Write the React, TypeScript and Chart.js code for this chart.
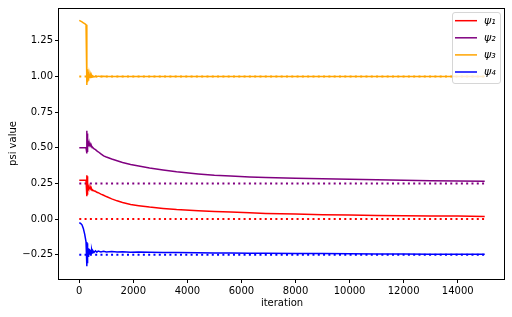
import React, { useEffect, useRef } from "react";
import { Chart, registerables } from "chart.js";

Chart.register(...registerables);

// iterations (shared x values for all four series)
const ITER = [
  0, 50, 100, 150, 200, 250, 275, 280, 285, 290, 295, 300, 305, 310, 315, 320,
  330, 340, 350, 360, 370, 380, 400, 420, 440, 460, 480, 500, 550, 600, 650,
  700, 800, 900, 1000, 1200, 1400, 1600, 1900, 2200, 2600, 3100, 3600, 4400,
  5000, 5600, 6300, 6900, 8000, 9000, 10000, 11000, 12000, 13000, 14000, 15000,
];

const PSI1 = [
  0.272, 0.272, 0.272, 0.272, 0.272, 0.272, 0.272, 0.307, 0.16, 0.3, 0.17, 0.27,
  0.19, 0.25, 0.2, 0.24, 0.215, 0.235, 0.21, 0.225, 0.208, 0.218, 0.212, 0.216,
  0.205, 0.21, 0.2, 0.204, 0.197, 0.195, 0.188, 0.185, 0.175, 0.167, 0.158,
  0.142, 0.128, 0.117, 0.102, 0.094, 0.084, 0.075, 0.067, 0.058, 0.053, 0.049,
  0.044, 0.04, 0.035, 0.031, 0.028, 0.026, 0.024, 0.022, 0.021, 0.019,
];

const PSI2 = [
  0.5, 0.5, 0.5, 0.5, 0.5, 0.5, 0.5, 0.62, 0.46, 0.6, 0.47, 0.57, 0.5, 0.56,
  0.51, 0.55, 0.525, 0.545, 0.52, 0.535, 0.515, 0.525, 0.515, 0.518, 0.508,
  0.51, 0.5, 0.502, 0.492, 0.487, 0.478, 0.472, 0.457, 0.443, 0.435, 0.421,
  0.409, 0.397, 0.383, 0.372, 0.358, 0.344, 0.332, 0.317, 0.308, 0.302, 0.296,
  0.292, 0.287, 0.283, 0.279, 0.275, 0.272, 0.269, 0.267, 0.265,
];

const PSI3 = [
  1.393, 1.388, 1.382, 1.376, 1.37, 1.363, 1.358, 1.2, 0.94, 1.03, 0.96, 1.05,
  0.97, 1.03, 0.98, 1.035, 0.975, 1.02, 0.985, 1.015, 0.99, 1.012, 0.992, 1.008,
  0.994, 1.006, 0.996, 1.004, 0.997, 1.003, 0.998, 1.002, 0.999, 1.001, 1.0,
  1.0, 1.0, 1.0, 1.0, 1.0, 1.0, 1.0, 1.0, 1.0, 1.0, 1.0, 1.0, 1.0, 1.0, 1.0,
  1.0, 1.0, 1.0, 1.0, 1.0, 1.0,
];

const PSI4 = [
  -0.026, -0.03, -0.04, -0.065, -0.105, -0.16, -0.19, -0.17, -0.33, -0.17,
  -0.31, -0.18, -0.29, -0.19, -0.27, -0.2, -0.26, -0.205, -0.255, -0.21, -0.25,
  -0.212, -0.245, -0.215, -0.24, -0.218, -0.236, -0.22, -0.233, -0.222, -0.232,
  -0.224, -0.231, -0.226, -0.23, -0.228, -0.231, -0.229, -0.232, -0.231,
  -0.233, -0.234, -0.235, -0.236, -0.237, -0.238, -0.239, -0.24, -0.241,
  -0.242, -0.243, -0.244, -0.245, -0.246, -0.246, -0.247,
];

const TARGETS = [0.0, 0.25, 1.0, -0.25];
const TARGET_RANGE = [0, 15000];
const LABELS = ["ψ₁", "ψ₂", "ψ₃", "ψ₄"];
const COLORS = ["red", "purple", "orange", "blue"];
const X_TICKS = [0, 2000, 4000, 6000, 8000, 10000, 12000, 14000];
const Y_TICKS = [-0.25, 0, 0.25, 0.5, 0.75, 1.0, 1.25];

const FONT = "'DejaVu Sans', sans-serif";

export default function App() {
  const ref = useRef<HTMLCanvasElement>(null);

  useEffect(() => {
    const canvas = ref.current;
    if (!canvas) return;
    const series = [PSI1, PSI2, PSI3, PSI4];

    const solid = series.map((vals, i) => ({
      label: LABELS[i],
      data: ITER.map((x, j) => ({ x, y: vals[j] })),
      borderColor: COLORS[i],
      backgroundColor: COLORS[i],
      borderWidth: 1.5,
      pointRadius: 0,
      tension: 0,
      fill: false,
    }));
    const dotted = TARGETS.map((t, i) => ({
      label: "target " + (i + 1),
      data: TARGET_RANGE.map((x) => ({ x, y: t })),
      borderColor: COLORS[i],
      backgroundColor: COLORS[i],
      borderWidth: 2,
      borderDash: [2, 3.3],
      borderCapStyle: "butt" as const,
      pointRadius: 0,
      tension: 0,
      fill: false,
    }));

    const framePlugin = {
      id: "frameLegend",
      afterDatasetsDraw(chart: any) {
        const { ctx, chartArea } = chart;
        const { left, top, right, bottom } = chartArea;
        ctx.save();
        ctx.strokeStyle = "#000";
        ctx.lineWidth = 1;
        ctx.strokeRect(left - 0.5, top + 0.5, right - left, bottom - top);

        // legend
        const lx = 452.5, ly = 12.5, lw = 48, lh = 71;
        ctx.beginPath();
        ctx.roundRect(lx, ly, lw, lh, 2.5);
        ctx.fillStyle = "rgba(255,255,255,0.8)";
        ctx.fill();
        ctx.strokeStyle = "rgba(204,204,204,0.8)";
        ctx.stroke();
        LABELS.forEach((lab, i) => {
          const y = 20.7 + i * 17.1;
          ctx.beginPath();
          ctx.strokeStyle = COLORS[i];
          ctx.lineWidth = 1.5;
          ctx.moveTo(455, y);
          ctx.lineTo(477, y);
          ctx.stroke();
          ctx.fillStyle = "#000";
          ctx.font = "italic 11px " + FONT;
          ctx.textBaseline = "middle";
          ctx.textAlign = "left";
          ctx.fillText(lab, 484, y + 0.5);
        });
        ctx.restore();
      },
    };

    const tickFont = { family: FONT, size: 10 };
    const chart = new Chart(canvas, {
      type: "line",
      data: { datasets: [...solid, ...dotted] as any },
      plugins: [framePlugin],
      options: {
        responsive: false,
        animation: false,
        devicePixelRatio: 1,
        layout: { padding: { top: 6, right: 7, left: 0, bottom: 0 } },
        plugins: { legend: { display: false }, tooltip: { enabled: false } },
        scales: {
          x: {
            type: "linear",
            min: -750,
            max: 15750,
            afterBuildTicks: (s: any) => {
              s.ticks = X_TICKS.map((v) => ({ value: v }));
            },
            afterFit: (s: any) => {
              s.height = 38;
            },
            ticks: {
              font: tickFont,
              color: "#000",
              maxRotation: 0,
              autoSkip: false,
              padding: 2,
              callback: (v: any) => String(v),
            },
            grid: {
              drawOnChartArea: false,
              drawTicks: true,
              tickLength: 4,
              tickColor: "#000",
              color: "#000",
            },
            border: { display: false },
            title: {
              display: true,
              text: "iteration",
              font: tickFont,
              color: "#000",
              padding: { top: 8, bottom: 8 },
            },
          },
          y: {
            type: "linear",
            min: -0.42,
            max: 1.48,
            afterBuildTicks: (s: any) => {
              s.ticks = Y_TICKS.map((v) => ({ value: v }));
            },
            afterFit: (s: any) => {
              s.width = 59;
            },
            ticks: {
              font: tickFont,
              color: "#000",
              autoSkip: false,
              padding: 2,
              callback: (v: any) =>
                (v < 0 ? "\u2212" : "") + Math.abs(Number(v)).toFixed(2),
            },
            grid: {
              drawOnChartArea: false,
              drawTicks: true,
              tickLength: 4,
              tickColor: "#000",
              color: "#000",
            },
            border: { display: false },
            title: {
              display: true,
              text: "psi value",
              font: tickFont,
              color: "#000",
              padding: { top: 7, bottom: 7 },
            },
          },
        },
      },
    });
    return () => chart.destroy();
  }, []);

  return (
    <div style={{ position: "absolute", left: 0, top: 0, width: 512, height: 317 }}>
      <canvas ref={ref} width={512} height={317} />
    </div>
  );
}
